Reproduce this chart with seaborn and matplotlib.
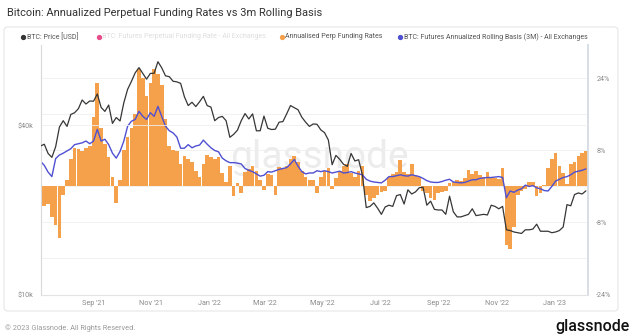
import numpy as np
import pandas as pd
import matplotlib
matplotlib.use("Agg")
import matplotlib.pyplot as plt
import matplotlib.dates as mdates
import matplotlib.ticker as mticker
from matplotlib.lines import Line2D
from matplotlib.patches import FancyBboxPatch
import seaborn as sns

# ---- data: 4-day samples starting 2021-07-07 ----
start_date = "2021-07-07"
n_points = 145

price_usd = [
    33800, 34300, 31800, 30800, 33600, 39500, 41600, 39700, 43800, 44400,
    45900, 49300, 47700, 48900, 48800, 51800, 46400, 44900, 47300, 40700,
    42700, 41500, 48200, 53800, 57400, 61600, 64300, 61300, 58500, 61300,
    61400, 67500, 64200, 60100, 59700, 57500, 57200, 56500, 50600, 47100,
    48400, 46700, 48600, 50800, 47100, 46500, 41600, 42700, 43100, 41600,
    36300, 37200, 38500, 41600, 44100, 42200, 44000, 38300, 38300, 43200,
    39100, 38700, 38800, 41100, 41300, 44000, 47100, 46300, 45500, 42800,
    41100, 39700, 40500, 40400, 38600, 37700, 35500, 29000, 31300, 30300,
    29100, 28600, 31800, 29900, 30200, 26600, 20400, 20600, 21200, 20300,
    19300, 20500, 20800, 20600, 22500, 22700, 21000, 23600, 22800, 23200,
    24000, 24100, 20800, 21500, 20100, 20000, 20000, 19300, 22400, 19700,
    18900, 18900, 19100, 19300, 20200, 19100, 19200, 19300, 19200, 20800,
    20600, 20200, 20600, 17000, 16900, 16700, 16600, 16500, 17000, 17000,
    17100, 17800, 16800, 16800, 16800, 16600, 16700, 16900, 17400, 20900,
    20700, 22700, 23000, 22800, 23400,
]

# annualised perpetual funding rate, %
funding_pct = [
    -8.0, -4.3, -4.0, -6.7, -8.5, -11.5, -2.0, 1.5, 6.0, 8.5,
    8.3, 7.8, 8.5, 9.0, 15.5, 23.0, 13.0, 9.5, 6.5, 2.0,
    -3.6, 1.5, 8.0, 11.0, 13.0, 16.0, 26.0, 24.0, 20.0, 23.0,
    26.0, 25.0, 22.5, 15.0, 9.0, 8.0, 7.8, 5.0, 6.8, 6.0,
    5.5, 3.5, 2.0, 5.0, 7.0, 6.5, 6.0, 6.5, 3.0, 1.0,
    4.5, -2.2, 0.8, -1.5, 3.2, 3.8, 4.5, 3.5, 1.5, -0.8,
    2.8, 2.5, -2.0, 4.3, 4.0, 4.5, 6.0, 6.7, 5.5, 3.5,
    2.0, 1.5, 1.5, -1.5, 2.0, 3.5, 4.0, -0.5, 1.8, 3.5,
    4.5, 5.0, 3.0, 2.2, 3.5, 4.5, -2.0, -3.3, -2.5, -1.8,
    -1.2, -1.0, 2.2, 2.8, 3.3, 5.9, 3.3, 2.8, 5.0, 2.6,
    2.2, -1.0, -1.5, -2.5, -3.0, -1.5, -1.2, -1.0, 0.8, 1.0,
    1.5, 1.2, 1.8, 3.6, 2.8, 3.5, 2.5, 2.2, 3.3, 2.0,
    1.8, 1.6, 4.0, -13.0, -14.0, -9.0, -2.0, -1.0, -0.5, 1.0,
    1.1, -2.2, -1.5, 0.3, 4.0, 6.0, 7.4, 4.5, 3.0, 0.5,
    5.0, 5.5, 6.7, 7.5, 7.8,
]

# futures annualized rolling basis (3M), %
basis_pct = [
    5.6, 4.7, 3.2, 2.2, 6.2, 7.0, 7.4, 7.9, 8.4, 9.3,
    9.5, 9.7, 10.1, 9.5, 10.1, 12.7, 10.1, 10.5, 9.3, 7.4,
    6.3, 7.8, 10.1, 13.4, 14.5, 14.9, 16.7, 15.6, 14.9, 16.4,
    15.6, 17.8, 15.6, 13.4, 12.4, 11.9, 11.0, 8.5, 8.5, 9.3,
    8.6, 9.0, 9.2, 10.3, 9.4, 8.6, 8.0, 7.7, 6.3, 5.7,
    5.3, 5.3, 5.2, 5.0, 4.0, 3.6, 3.3, 2.8, 2.3, 2.5,
    3.3, 3.2, 3.5, 3.8, 4.0, 4.2, 5.0, 6.0, 4.5, 3.3,
    2.8, 3.0, 3.0, 3.5, 3.3, 3.5, 3.3, 3.0, 3.2, 3.4,
    3.0, 3.1, 3.3, 3.0, 2.8, 2.6, 1.6, 1.2, 1.0, 0.9,
    0.8, 1.4, 2.2, 2.2, 2.4, 2.6, 2.4, 2.3, 2.6, 2.4,
    2.2, 1.8, 1.3, 1.0, 0.9, 0.9, 1.1, 1.4, 1.6, 1.0,
    0.9, 0.8, 0.9, 1.2, 1.5, 1.5, 1.8, 1.9, 2.0, 2.0,
    2.1, 2.2, 2.0, -2.5, -1.0, -1.3, -0.8, -0.5, 0.3, 0.0,
    0.2, -0.3, -0.5, -0.9, -1.0, 0.0, 1.2, 1.6, 2.0, 2.2,
    2.6, 3.2, 3.4, 3.6, 3.9,
]

price_ticks = [10000, 40000]
price_tick_labels = ["$10k", "$40k"]
pct_ticks = [24, 8, -8, -24]
pct_tick_labels = ["24%", "8%", "-8%", "-24%"]

legend_labels = [
    "BTC: Price [USD]",
    "BTC: Futures Perpetual Funding Rate - All Exchanges",
    "Annualised Perp Funding Rates",
    "BTC: Futures Annualized Rolling Basis (3M) - All Exchanges",
]

dates = pd.date_range(start_date, periods=n_points, freq="4D")
df = pd.DataFrame({"date": dates, "price": price_usd,
                   "funding": funding_pct, "basis": basis_pct})

# ---- styling ----
sns.set_style("white")
plt.rcParams["font.family"] = ["Roboto", "DejaVu Sans"]

PRICE_C = "#363636"
FUND_C = "#f5a04a"
BASIS_C = "#4f50d2"
PINK_C = "#e84d8a"
TICK_C = "#8a8a8a"

W, H = 633, 335
fig = plt.figure(figsize=(W / 100, H / 100), dpi=100, facecolor="white")

left, right, bottom_px, top_px = 40.5, 588.0, 294.5, 45.0
ax = fig.add_axes([left / W, 1 - bottom_px / H, (right - left) / W,
                   (bottom_px - top_px) / H])
ax2 = ax.twinx()

# price line sits above the funding bars
ax.set_zorder(ax2.get_zorder() + 1)
ax.patch.set_visible(False)
ax2.patch.set_facecolor("white")

# funding bars + basis line on the right (percent) axis
ax2.set_axisbelow(True)
ax2.text(0.51, 0.55, "glassnode", transform=ax2.transAxes, fontsize=28,
         color="#ececec", ha="center", va="center", zorder=0)
ax2.bar(df["date"], df["funding"], width=3.85, color=FUND_C, linewidth=0,
        zorder=2)
sns.lineplot(data=df, x="date", y="basis", ax=ax2, color=BASIS_C,
             linewidth=1.0, zorder=3)

# price on the left (log) axis
sns.lineplot(data=df, x="date", y="price", ax=ax, color=PRICE_C,
             linewidth=0.9, zorder=4)

ax.set_yscale("log")
ax.set_ylim(10000, 77400)
ax2.set_ylim(-24, 31.44)
ax.set_xlim(pd.Timestamp("2021-07-07"), pd.Timestamp("2023-02-05 05:00"))

ax.yaxis.set_major_locator(mticker.FixedLocator(price_ticks))
ax.yaxis.set_major_formatter(mticker.FixedFormatter(price_tick_labels))
ax.yaxis.set_minor_locator(mticker.NullLocator())
ax.yaxis.set_minor_formatter(mticker.NullFormatter())
ax2.set_yticks(pct_ticks)
ax2.set_yticklabels(pct_tick_labels)

ax.xaxis.set_major_locator(mdates.MonthLocator(bymonth=[1, 3, 5, 7, 9, 11]))
ax.xaxis.set_major_formatter(mdates.DateFormatter("%b '%y"))

for a in (ax, ax2):
    a.set_xlabel("")
    a.set_ylabel("")
    a.tick_params(length=0, labelsize=5.2, colors=TICK_C)
ax.tick_params(axis="y", pad=5.5)
ax.tick_params(axis="x", pad=4)
ax2.tick_params(axis="y", pad=6)

# horizontal grid every 8% on the right axis, plus the $40k line
for v in range(-16, 32, 8):
    ax2.axhline(v, color="#efefef", linewidth=0.6, zorder=0)
ax.axhline(40000, color="#efefef", linewidth=0.6, zorder=0)

for a in (ax, ax2):
    a.spines["top"].set_visible(False)
ax.spines["right"].set_visible(False)
ax.spines["left"].set_color("#d9d9d9")
ax.spines["left"].set_linewidth(0.8)
ax.spines["bottom"].set_color("#e3e3e3")
ax.spines["bottom"].set_linewidth(0.8)
ax2.spines["left"].set_visible(False)
ax2.spines["bottom"].set_visible(False)
ax2.spines["right"].set_color("#d5dbe4")
ax2.spines["right"].set_linewidth(1.3)

# ---- panel frame ----
panel = FancyBboxPatch((4 / W, 1 - 311 / H), 614 / W, 284 / H,
                       boxstyle="round,pad=0,rounding_size=0.006",
                       mutation_aspect=W / H, transform=fig.transFigure,
                       facecolor="none", edgecolor="#e6e6e6", linewidth=0.8,
                       zorder=0)
fig.add_artist(panel)

# ---- title ----
fig.text(7 / W, 1 - 12.5 / H,
         "Bitcoin: Annualized Perpetual Funding Rates vs 3m Rolling Basis",
         fontsize=7.9, color="#333333", ha="left", va="center")

# ---- legend row ----
leg_y = 1 - 37 / H
legend_items = [
    (23.5, PRICE_C, legend_labels[0], "#555555"),
    (98.5, PINK_C, legend_labels[1], "#dedede"),
    (281.5, FUND_C, legend_labels[2], "#555555"),
    (400.0, BASIS_C, legend_labels[3], "#555555"),
]
for xpx, mc, label, tc in legend_items:
    fig.add_artist(Line2D([xpx / W], [leg_y], marker="o", markersize=2.8,
                          color=mc, linestyle="none",
                          transform=fig.transFigure))
    fig.text((xpx + 3.5) / W, leg_y, label, fontsize=5.0, color=tc,
             ha="left", va="center")

# ---- footer ----
fig.text(5 / W, 1 - 328 / H, "\u00a9 2023 Glassnode. All Rights Reserved.",
         fontsize=5.3, color="#9a9a9a", ha="left", va="center")
fig.text(630 / W, 1 - 326 / H, "glassnode", fontsize=11.5, color="#111111",
         ha="right", va="center", fontweight="medium")

fig.savefig("out.png", dpi=100, facecolor="white")
